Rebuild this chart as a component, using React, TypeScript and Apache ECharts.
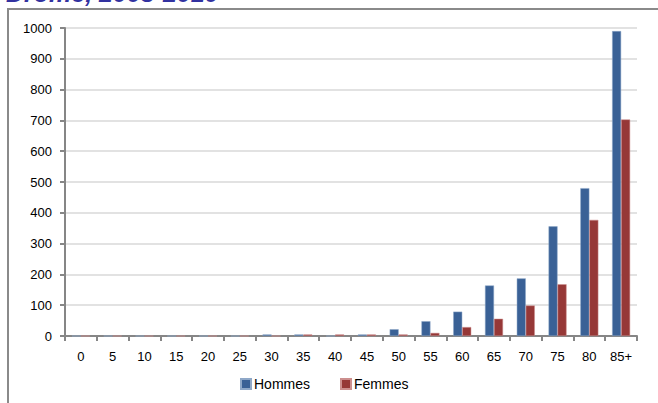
import React, { useEffect, useRef } from "react";
import * as echarts from "echarts";

const categories = ["0", "5", "10", "15", "20", "25", "30", "35", "40", "45", "50", "55", "60", "65", "70", "75", "80", "85+"];
const hommes = [0, 0, 0, 0, 0, 0, 5, 5, 0, 5, 22, 48, 79, 164, 187, 356, 480, 990];
const femmes = [0, 0, 0, 0, 0, 0, 0, 5, 5, 5, 5, 10, 29, 56, 99, 168, 377, 703];
const seriesNames = ["Hommes", "Femmes"];
const titleText = "Drôme, 2008-2010";

export default function App() {
  const ref = useRef<HTMLDivElement>(null);
  useEffect(() => {
    if (!ref.current) return;
    const chart = echarts.init(ref.current, null, { renderer: "svg" });
    const font = "'Liberation Sans', Arial, sans-serif";
    chart.setOption({
      animation: false,
      backgroundColor: "#ffffff",
      textStyle: { fontFamily: font },
      graphic: [
        {
          type: "rect",
          shape: { x: 8, y: 9, width: 720, height: 500 },
          style: { fill: "none", stroke: "#8a8a8a", lineWidth: 2 },
          silent: true,
        },
        {
          type: "text",
          x: 6,
          y: -7,
          style: {
            text: titleText,
            fill: "#3232a0",
            font: "italic bold 25px 'Liberation Sans', Arial, sans-serif",
            verticalAlign: "middle",
            align: "left",
          },
          silent: true,
        },
      ],
      grid: { left: 65, right: 21, top: 28, bottom: 67, containLabel: false },
      legend: {
        data: seriesNames,
        left: 235,
        top: 372,
        icon: "rect",
        itemWidth: 10,
        itemHeight: 10,
        itemGap: 30,
        textStyle: { fontSize: 14, color: "#000", fontFamily: font, padding: [0, 0, 0, -2] },
      },
      xAxis: {
        type: "category",
        data: categories,
        boundaryGap: true,
        axisLine: { show: true, lineStyle: { color: "#868686", width: 2 } },
        axisTick: { show: true, length: 5, lineStyle: { color: "#868686", width: 2 }, alignWithLabel: false },
        axisLabel: { color: "#000", fontSize: 13, margin: 14, fontFamily: font, interval: 0 },
        splitLine: { show: false },
      },
      yAxis: {
        type: "value",
        min: 0,
        max: 1000,
        interval: 100,
        axisLine: { show: true, lineStyle: { color: "#868686", width: 2 } },
        axisTick: { show: true, length: 5, lineStyle: { color: "#868686", width: 2 } },
        axisLabel: {
          color: "#000",
          fontSize: 13,
          margin: 13,
          fontFamily: font,
          formatter: (v: number) => String(v),
        },
        splitLine: { show: true, lineStyle: { color: "#d9d9d9", width: 1.5 } },
      },
      series: [
        {
          name: seriesNames[0],
          type: "bar",
          data: hommes,
          barWidth: 9,
          barGap: "0%",
          itemStyle: { color: "#3a6196", borderColor: "#8fa8c8", borderWidth: 0.5 },
        },
        {
          name: seriesNames[1],
          type: "bar",
          data: femmes,
          barWidth: 9,
          barGap: "0%",
          itemStyle: { color: "#963837", borderColor: "#cc8f8e", borderWidth: 0.5 },
        },
      ],
    });
    return () => chart.dispose();
  }, []);
  return (
    <div
      ref={ref}
      style={{ position: "absolute", left: 0, top: 0, width: 658, height: 403 }}
    />
  );
}
